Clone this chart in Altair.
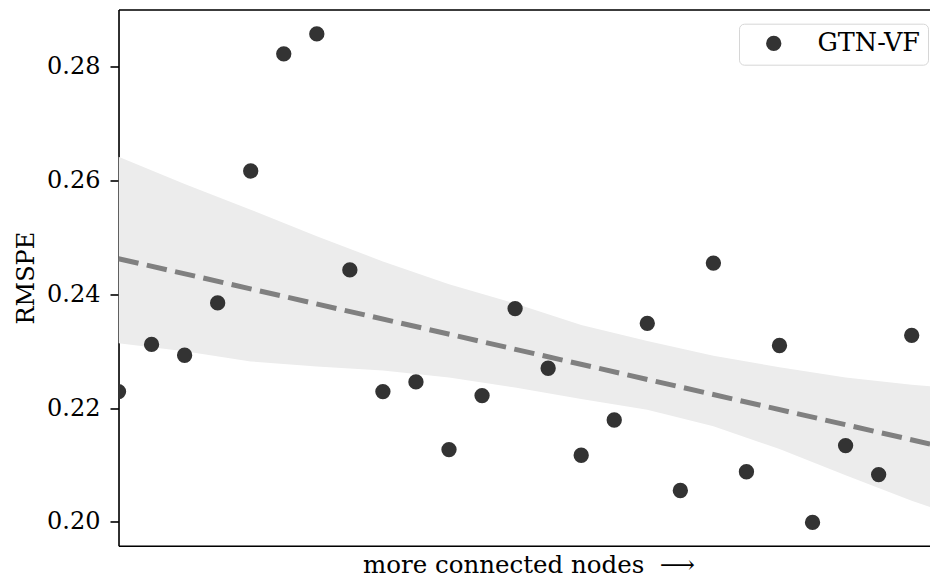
import altair as alt
import pandas as pd

# scatter values (one per position, left to right)
node_rank = list(range(26))
rmspe = [0.2229, 0.2312, 0.2293, 0.2385, 0.2617, 0.2823, 0.2858, 0.2443,
         0.2229, 0.2246, 0.2127, 0.2222, 0.2375, 0.2270, 0.2117, 0.2179,
         0.2349, 0.2055, 0.2455, 0.2088, 0.2310, 0.1999, 0.2134, 0.2083,
         0.2328, 0.2192]
series_name = "GTN-VF"

# confidence band edges
band_x = [0, 2, 4, 6, 8, 10, 12, 14, 16, 18, 20, 22, 24, 25]
band_upper = [0.2642, 0.2594, 0.2549, 0.2502, 0.2458, 0.2418, 0.2384,
              0.2346, 0.2318, 0.2292, 0.2272, 0.2254, 0.2241, 0.2236]
band_lower = [0.2314, 0.2300, 0.2282, 0.2273, 0.2266, 0.2254, 0.2236,
              0.2216, 0.2197, 0.2168, 0.2128, 0.2082, 0.2037, 0.2017]

y_ticks = [0.20, 0.22, 0.24, 0.26, 0.28]

pts = pd.DataFrame({"x": node_rank, "y": rmspe, "series": series_name})
band = pd.DataFrame({"x": band_x, "hi": band_upper, "lo": band_lower})

FONT = "DejaVu Serif"
W, H = 811.5, 536.2
xs = alt.Scale(domain=[0, 811.5 / 33.05], nice=False, zero=False)
ys = alt.Scale(domain=[0.1958, 0.2901], nice=False, zero=False)

band_layer = alt.Chart(band).mark_area(color="#ececec", clip=True).encode(
    x=alt.X("x:Q", scale=xs,
            axis=alt.Axis(orient="top", title=None, labels=False, ticks=False,
                          domain=True, domainColor="black", domainWidth=1.6,
                          grid=False)),
    y=alt.Y("hi:Q", scale=ys,
            axis=alt.Axis(values=y_ticks, format=".2f", title="RMSPE",
                          grid=False, domainColor="black", domainWidth=1.6,
                          tickColor="black", tickWidth=1.6, tickSize=8.5,
                          labelPadding=10, labelFont=FONT, labelFontSize=24,
                          labelColor="black", titleFont=FONT, titleFontSize=24,
                          titleFontWeight="normal", titleColor="black",
                          titleX=-85, titleY=H / 2, titleBaseline="alphabetic",
                          titleAlign="center", titleAngle=270)),
    y2="lo:Q",
)

line_layer = alt.Chart(pts).transform_regression("x", "y", extent=[0, 25]).mark_line(
    color="#808080", strokeWidth=5, strokeDash=[20.5, 8.5], clip=True,
    strokeCap="butt"
).encode(
    x=alt.X("x:Q", scale=xs, axis=None),
    y=alt.Y("y:Q", scale=ys),
)

point_layer = alt.Chart(pts).mark_circle(size=235, opacity=1, clip=True).encode(
    x=alt.X("x:Q", scale=xs,
            axis=alt.Axis(orient="bottom", title="more connected nodes\u00a0\u00a0\u27f6",
                          labels=False, ticks=False, grid=False,
                          domainColor="black", domainWidth=1.6,
                          titleFont=FONT, titleFontSize=24.5, titleFontWeight="normal",
                          titleColor="black", titleBaseline="alphabetic",
                          titleY=27, titleX=410, titleAlign="center")),
    y=alt.Y("y:Q", scale=ys),
    color=alt.Color("series:N", scale=alt.Scale(range=["#333333"]),
                    legend=alt.Legend(title=None, orient="none",
                                      legendX=620.5, legendY=14.2,
                                      labelFont=FONT, labelFontSize=25.5,
                                      labelColor="black", labelOffset=31,
                                      symbolSize=235, symbolType="circle",
                                      symbolStrokeWidth=0, symbolOffset=15,
                                      padding=7, strokeColor="#d6d6d6",
                                      cornerRadius=5, fillColor="white")),
)

chart = alt.layer(band_layer, line_layer, point_layer).resolve_axis(
    x="independent"
).properties(
    width=W, height=H,
    autosize=alt.AutoSizeParams(type="none"),
    padding={"left": 110.5, "top": 1.5, "right": 0, "bottom": 27.5},
).configure_view(stroke=None).configure(background="white")

chart.save("out.html", embed_options={"renderer": "svg", "actions": False})
